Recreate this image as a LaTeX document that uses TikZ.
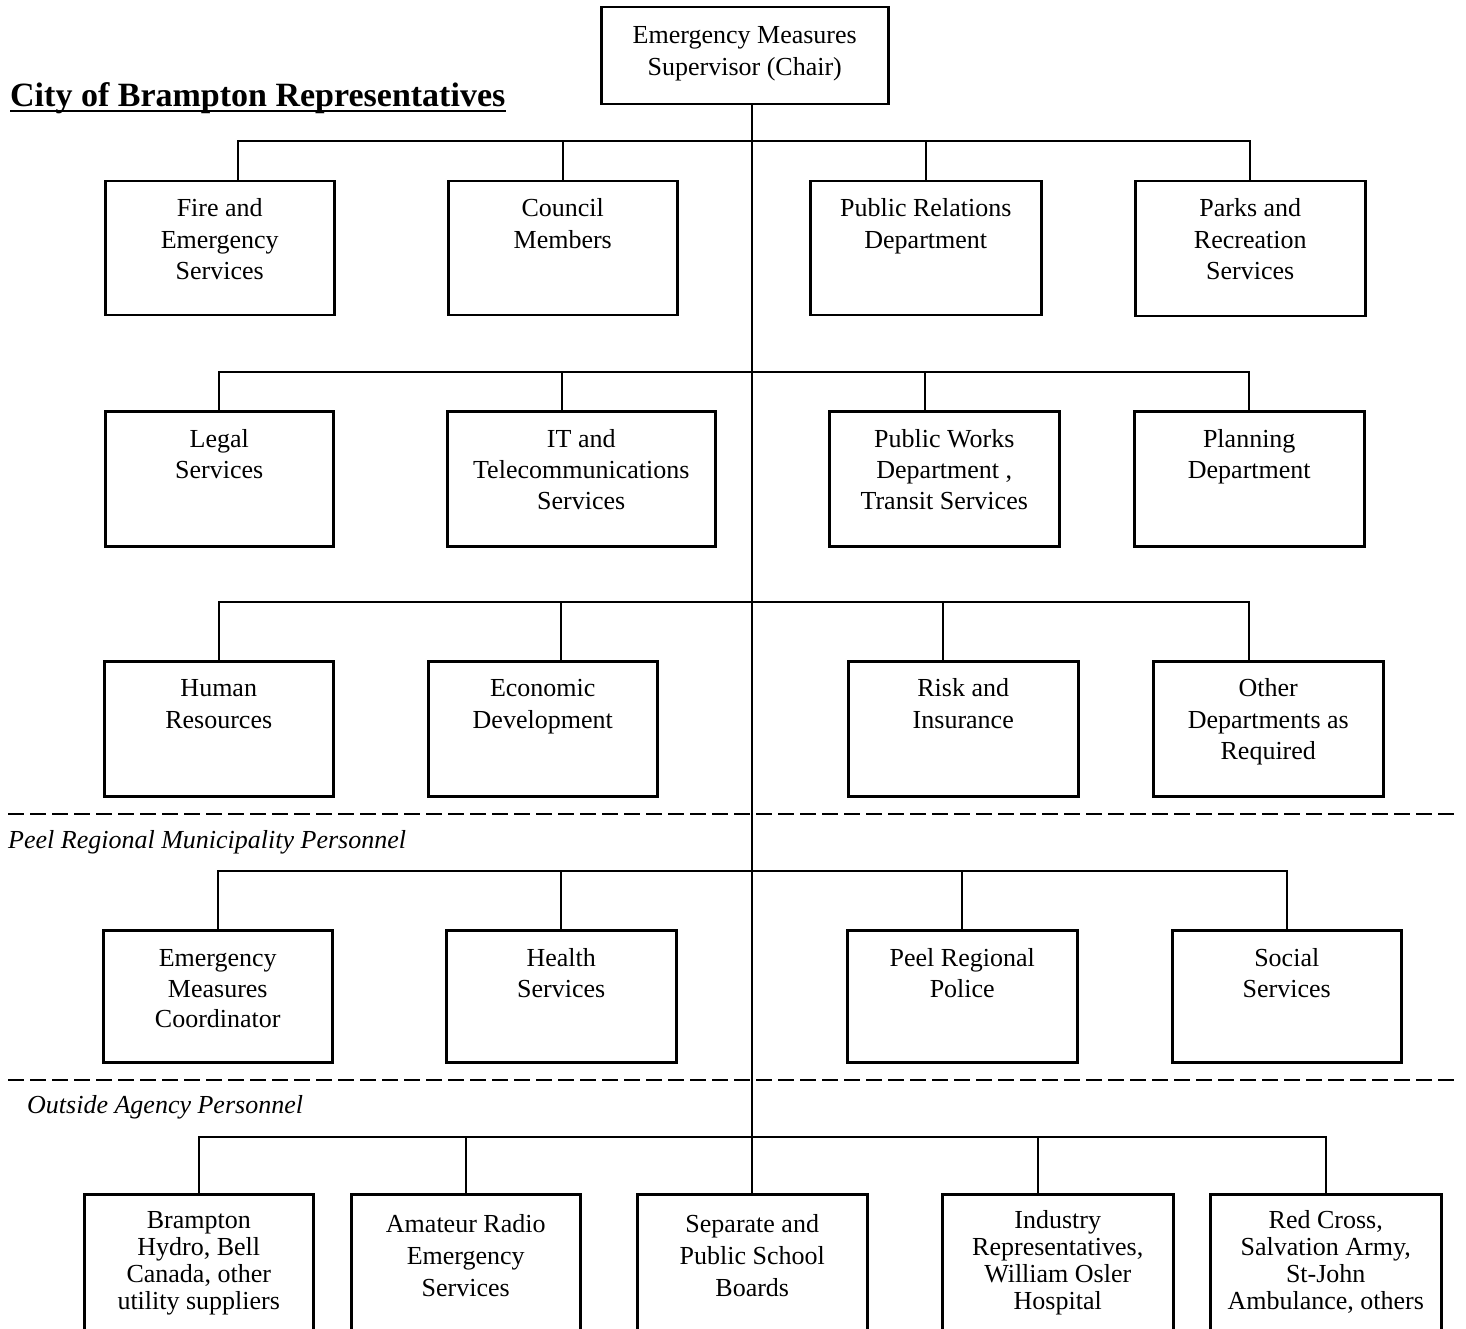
\documentclass[tikz,border=0pt]{standalone}
\usepackage{fontspec}
\setmainfont{Liberation Serif}
\tikzset{
  obox/.style={draw, line width=2.5pt, inner sep=0pt, anchor=north west},
  conn/.style={line width=2pt},
  sepline/.style={line width=2.8pt, dash pattern=on 16pt off 6pt},
  grouplabel/.style={inner sep=0pt, anchor=base west, font=\fontsize{26}{31}\selectfont\itshape},
}
\newcommand\boxtext[5]{\parbox[c][#2pt][t]{#1pt}{\centering\fontsize{26}{#3}\selectfont\rule{0pt}{#4pt}#5}}
\begin{document}
\begin{tikzpicture}[x=1pt,y=-1pt]
\useasboundingbox (0,0) rectangle (1466,1329);
\clip (0,0) rectangle (1466,1329);
\fill[white] (0,0) rectangle (1466,1329);

% title
\node[inner sep=0pt, anchor=base west, font=\fontsize{34}{40}\selectfont\bfseries] (title) at (10,107) {City of Brampton Representatives};
\draw[line width=2.5pt] ([yshift=-4pt]title.base west) -- ([yshift=-4pt]title.base east);

% chair
\node[obox] (chair) at (600,6) {\boxtext{287}{97}{32}{36.6}{Emergency Measures\\Supervisor (Chair)}};

% row 1
\node[obox] (fire) at (104,180) {\boxtext{229}{134}{31.5}{35.6}{Fire and\\Emergency\\Services}};
\node[obox] (council) at (447,180) {\boxtext{229}{134}{31.5}{35.6}{Council\\Members}};
\node[obox] (pr) at (809,180) {\boxtext{231}{134}{31.5}{35.6}{Public Relations\\Department}};
\node[obox] (parks) at (1134,180) {\boxtext{230}{135}{31.5}{35.6}{Parks and\\Recreation\\Services}};

% row 2
\node[obox] (legal) at (104,410) {\boxtext{228}{135}{31}{36.6}{Legal\\Services}};
\node[obox] (it) at (446,410) {\boxtext{268}{135}{31}{36.6}{IT and\\Telecommunications\\Services}};
\node[obox] (pw) at (828,410) {\boxtext{230}{135}{31}{36.6}{Public Works\\Department ,\\Transit Services}};
\node[obox] (planning) at (1133,410) {\boxtext{230}{135}{31}{36.6}{Planning\\Department}};

% row 3
\node[obox] (hr) at (103,660) {\boxtext{229}{135}{31.5}{35.6}{Human\\Resources}};
\node[obox] (econ) at (427,660) {\boxtext{229}{135}{31.5}{35.6}{Economic\\Development}};
\node[obox] (risk) at (847,660) {\boxtext{230}{135}{31.5}{35.6}{Risk and\\Insurance}};
\node[obox] (other) at (1152,660) {\boxtext{230}{135}{31.5}{35.6}{Other\\Departments as\\Required}};

% separator 1
\draw[sepline] (8,814) -- (1458,814);
\node[grouplabel] (peel) at (8,848) {Peel Regional Municipality Personnel};

% row 4
\node[obox] (emc) at (102,929) {\boxtext{229}{132}{30.5}{36.6}{Emergency\\Measures\\Coordinator}};
\node[obox] (health) at (445,929) {\boxtext{230}{132}{30.5}{36.6}{Health\\Services}};
\node[obox] (police) at (846,929) {\boxtext{230}{132}{30.5}{36.6}{Peel Regional\\Police}};
\node[obox] (social) at (1171,929) {\boxtext{229}{132}{30.5}{36.6}{Social\\Services}};

% separator 2
\draw[sepline] (8,1080) -- (1458,1080);
\node[grouplabel] (outside) at (27,1113) {Outside Agency Personnel};

% row 5
\node[obox] (brampton) at (83,1193) {\boxtext{229}{170}{27}{34}{Brampton\\Hydro, Bell\\Canada, other\\utility suppliers}};
\node[obox] (amateur) at (350,1193) {\boxtext{229}{170}{32}{38}{Amateur Radio\\Emergency\\Services}};
\node[obox] (sep) at (636,1193) {\boxtext{230}{170}{32}{38}{Separate and\\Public School\\Boards}};
\node[obox] (industry) at (941,1193) {\boxtext{231}{170}{27}{34}{Industry\\Representatives,\\William Osler\\Hospital}};
\node[obox] (redcross) at (1209,1193) {\boxtext{231}{170}{27}{34}{Red Cross,\\Salvation Army,\\St-John\\Ambulance, others}};

% bus junctions on the trunk
\coordinate (bus1) at (752,141);
\coordinate (bus2) at (752,372);
\coordinate (bus3) at (752,602);
\coordinate (bus4) at (752,871);
\coordinate (bus5) at (752,1137);

% attachment points off the box centres
\coordinate (fire-in) at ([xshift=18.5pt]fire.north);
\coordinate (it-in) at ([xshift=-19pt]it.north);
\coordinate (pw-in) at ([xshift=-19pt]pw.north);
\coordinate (econ-in) at ([xshift=18.5pt]econ.north);
\coordinate (risk-in) at ([xshift=-20pt]risk.north);
\coordinate (other-in) at ([xshift=-19pt]other.north);
\coordinate (industry-in) at ([xshift=-19.5pt]industry.north);

% trunk
\draw[conn] (chair.south -| sep.north) -- (sep.north);

% row 1 connectors
\draw[conn] (fire-in) |- (bus1) -| (parks.north);
\draw[conn] (council.north) -- (council.north |- bus1);
\draw[conn] (pr.north) -- (pr.north |- bus1);

% row 2 connectors
\draw[conn] (legal.north) |- (bus2) -| (planning.north);
\draw[conn] (it-in) -- (it-in |- bus2);
\draw[conn] (pw-in) -- (pw-in |- bus2);

% row 3 connectors
\draw[conn] (hr.north) |- (bus3) -| (other-in);
\draw[conn] (econ-in) -- (econ-in |- bus3);
\draw[conn] (risk-in) -- (risk-in |- bus3);

% row 4 connectors
\draw[conn] (emc.north) |- (bus4) -| (social.north);
\draw[conn] (health.north) -- (health.north |- bus4);
\draw[conn] (police.north) -- (police.north |- bus4);

% row 5 connectors
\draw[conn] (brampton.north) |- (bus5) -| (redcross.north);
\draw[conn] (amateur.north) -- (amateur.north |- bus5);
\draw[conn] (industry-in) -- (industry-in |- bus5);
\end{tikzpicture}
\end{document}
